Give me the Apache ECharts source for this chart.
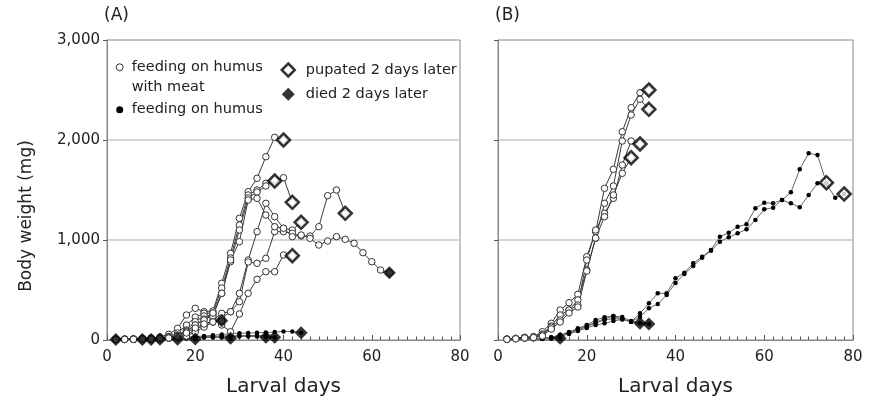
<!DOCTYPE html>
<html><head><meta charset="utf-8">
<script src="https://cdn.jsdelivr.net/npm/echarts@6/dist/echarts.min.js"></script>
<style>html,body{margin:0;padding:0;background:#fff}#c{width:869px;height:403px}</style>
</head><body><div id="c"></div>
<script>
// Larval days (measurements every 2 days, starting at day 2)
const days = [2,4,6,8,10,12,14,16,18,20,22,24,26,28,30,32,34,36,38,40,42,44,46,48,50,52,54,56,58,60,62,64,66,68,70,72,74,76,78];
const xTicks = [0,20,40,60,80];
const yTicks = [0,1000,2000,3000];

// Panel A – feeding on humus with meat (body weight, mg)
const aMeat1 = [8,10,12,15,20,30,57,117,250,317,283,290,567,867,1217,1483,1617,1833,2027,2000];
const aMeat2 = [6,8,10,12,15,22,35,70,150,230,267,270,520,820,1150,1450,1500,1567,1590];
const aMeat3 = [6,8,9,11,14,20,30,50,100,183,240,250,467,783,1100,1420,1480,1540,1600,1623,1377];
const aMeat4 = [5,7,8,10,12,15,20,30,50,100,150,200,267,283,467,800,1083,1367,1233,1117,1100,1177];
const aMeat5 = [5,6,7,9,11,14,18,25,40,80,130,180,220,283,383,780,767,817,1083,1083,1067,1040,1040,1133,1443,1500,1267];
const aMeat6 = [5,6,8,10,12,16,25,45,90,150,210,240,467,800,983,1400,1417,1250,1133,1117,1033,1050,1017,950,990,1033,1007,967,873,783,700,673];
const aMeat7 = [5,6,7,9,11,15,22,40,80,150,200,270,150,83,260,467,607,683,683,850,843];
const aMeat8 = [5,6,7,8,10,14,20,35,70,120,160,180,193];

// Panel A – feeding on humus
const aHum1 = [5];
const aHum2 = [5,6,6,5];
const aHum3 = [5,6,7,7,6];
const aHum4 = [5,6,7,8,8,7];
const aHum5 = [5,6,7,8,9,10,10,8];
const aHum6 = [5,6,7,8,10,12,14,16,15,10];
const aHum7 = [5,6,7,8,10,12,15,18,20,22,24,26,25,17];
const aHum8 = [5,6,7,8,10,12,15,18,21,24,27,30,32,34,35,36,34,27];
const aHum9 = [5,6,7,9,11,14,17,20,24,28,32,36,40,42,44,45,45,42,27];
const aHum10 = [5,6,8,10,12,15,18,22,27,33,40,48,55,62,67,70,72,75,80,85,85,73];

// Panel B – feeding on humus with meat
const bMeat1 = [10,17,27,33,83,167,300,373,457,833,1083,1517,1707,2083,2323,2473,2500];
const bMeat2 = [8,15,25,30,60,140,250,300,400,700,1017,1367,1540,1990,2250,2407,2307];
const bMeat3 = [8,14,22,28,50,127,200,300,350,800,1100,1267,1417,1750,1990,1960];
const bMeat4 = [7,12,20,25,40,110,180,270,330,690,1020,1233,1450,1667,1823];

// Panel B – feeding on humus
const bHum1 = [5,7,9,11,15,27,50,75,110,140,180,210,240,207,183,267,367,467,467,617,673,767,833,900,1033,1073,1133,1157,1317,1373,1367,1400,1477,1707,1867,1850,1573];
const bHum2 = [5,6,8,10,13,22,40,60,90,120,150,167,190,207,183,230,317,360,450,570,660,740,823,893,983,1027,1067,1107,1200,1307,1323,1400,1367,1327,1450,1567,1560,1423,1460];
const bHum3 = [5,7,9,11,14,25,50,80,117,150,200,227,240,230,190,167];
const bHum4 = [5,6,8,10,12,20,35,67,100,133,170,200,215,207,183,170,160];
const bHum5 = [4,5,6,7,9,12,17];

// Outcome groups (last measurement is marked)
const aPupated = [aMeat1,aMeat2,aMeat3,aMeat4,aMeat5,aMeat7];
const aDied = [aMeat6,aMeat8,aHum1,aHum2,aHum3,aHum4,aHum5,aHum6,aHum7,aHum8,aHum9,aHum10];
const bPupated = [bMeat1,bMeat2,bMeat3,bMeat4,bHum1,bHum2];
const bDied = [bHum3,bHum4,bHum5];

const NAME_MEAT = 'feeding on humus with meat';
const NAME_HUM = 'feeding on humus';
const NAME_PUP = 'pupated 2 days later';
const NAME_DIED = 'died 2 days later';
const FONT = 'DejaVu Sans';
const TXT = '#222';

function pts(vals){ return vals.map((v,i)=>[days[i], v]); }
function last(vals){ return [days[vals.length-1], vals[vals.length-1]]; }

const series = [];
function addLine(vals, g, meat){
  series.push({
    type:'line', name: meat ? NAME_MEAT : NAME_HUM, xAxisIndex:g, yAxisIndex:g,
    data: pts(vals), symbol:'circle', symbolSize: meat ? 6.5 : 4.5, showAllSymbol:true,
    lineStyle:{color: meat ? '#3a3a3a' : '#666', width:1},
    itemStyle: meat ? {color:'#fff', borderColor:'#333', borderWidth:1} : {color:'#000', borderWidth:0},
    z: meat ? 3 : 2, silent:true, animation:false
  });
}
[aMeat1,aMeat2,aMeat3,aMeat4,aMeat5,aMeat6,aMeat7,aMeat8].forEach(v=>addLine(v,0,true));
[aHum1,aHum2,aHum3,aHum4,aHum5,aHum6,aHum7,aHum8,aHum9,aHum10].forEach(v=>addLine(v,0,false));
[bMeat1,bMeat2,bMeat3,bMeat4].forEach(v=>addLine(v,1,true));
[bHum1,bHum2,bHum3,bHum4,bHum5].forEach(v=>addLine(v,1,false));

function addEnds(list, g, pup){
  series.push({
    type:'scatter', name: pup ? NAME_PUP : NAME_DIED, xAxisIndex:g, yAxisIndex:g,
    data: list.map(last), symbol:'diamond', symbolSize:13,
    itemStyle: pup ? {color:'#fff', borderColor:'#000', borderWidth:2.5} : {color:'#000', borderColor:'#000', borderWidth:0},
    z:6, silent:true, animation:false
  });
}
addEnds(aPupated,0,true); addEnds(aDied,0,false);
addEnds(bPupated,1,true); addEnds(bDied,1,false);

function xAx(i){
  return {type:'value', gridIndex:i, min:xTicks[0], max:xTicks[xTicks.length-1], interval:20,
    axisLine:{show:true, lineStyle:{color:'#888', width:1}},
    axisTick:{show:true, inside:true, length:5, lineStyle:{color:'#555', width:1}},
    minorTick:{show:true, splitNumber:10, length:3.5, lineStyle:{color:'#555', width:1}},
    splitLine:{show:false},
    axisLabel:{fontFamily:FONT, fontSize:15, color:TXT, margin:10},
    name:'Larval days', nameLocation:'middle', nameGap:37,
    nameTextStyle:{fontFamily:FONT, fontSize:20, color:TXT}};
}
function yAx(i){
  const o = {type:'value', gridIndex:i, min:yTicks[0], max:yTicks[yTicks.length-1], interval:1000,
    axisLine:{show:true, lineStyle:{color:'#888', width:1}},
    axisTick:{show:true, length:4, lineStyle:{color:'#555', width:1}},
    splitLine:{show:true, showMinLine:false, showMaxLine:false, lineStyle:{color:'#c8c8c8', width:1.5}},
    axisLabel:{show:i===0, formatter:v=>v.toLocaleString('en-US'), fontFamily:FONT, fontSize:15, color:TXT, margin:7}};
  if(i===0){
    o.name='Body weight (mg)'; o.nameLocation='middle'; o.nameGap=72;
    o.nameTextStyle={fontFamily:FONT, fontSize:17, color:TXT, padding:[0,52,0,0]};
  }
  return o;
}

const option = {
  backgroundColor:'#fff',
  animation:false,
  title:[
    {text:'(A)', left:104, top:7, padding:0, textStyle:{fontFamily:FONT, fontSize:17, fontWeight:'normal', color:TXT}},
    {text:'(B)', left:495, top:7, padding:0, textStyle:{fontFamily:FONT, fontSize:17, fontWeight:'normal', color:TXT}}
  ],
  grid:[
    {left:107, top:40, width:353, height:300, show:true, borderColor:'#888', borderWidth:1},
    {left:498, top:40, width:355, height:300, show:true, borderColor:'#888', borderWidth:1}
  ],
  xAxis:[xAx(0), xAx(1)],
  yAxis:[yAx(0), yAx(1)],
  legend:[
    {left:115.7, top:37.3, orient:'vertical', padding:0, itemGap:2.4, itemWidth:14, itemHeight:7,
     icon:'circle', selectedMode:false,
     data:[{name:NAME_MEAT, itemStyle:{color:'#fff', borderColor:'#333', borderWidth:1}},
           {name:NAME_HUM, itemStyle:{color:'#000', borderWidth:0}}],
     formatter:n=> n===NAME_MEAT ? ' \nfeeding on humus\nwith meat' : n,
     textStyle:{fontFamily:FONT, fontSize:14.5, color:TXT, lineHeight:20}},
    {left:280.5, top:62, orient:'vertical', padding:0, itemGap:8.3, itemWidth:13, itemHeight:13,
     icon:'diamond', selectedMode:false,
     data:[{name:NAME_PUP, itemStyle:{color:'#fff', borderColor:'#000', borderWidth:2.5}},
           {name:NAME_DIED, itemStyle:{color:'#000', borderColor:'#000', borderWidth:0}}],
     textStyle:{fontFamily:FONT, fontSize:14.5, color:TXT, lineHeight:16, padding:[0,0,0,6]}}
  ],
  series
};
const chart = echarts.init(document.getElementById('c'), null, {renderer:'canvas'});
chart.setOption(option);
</script></body></html>
